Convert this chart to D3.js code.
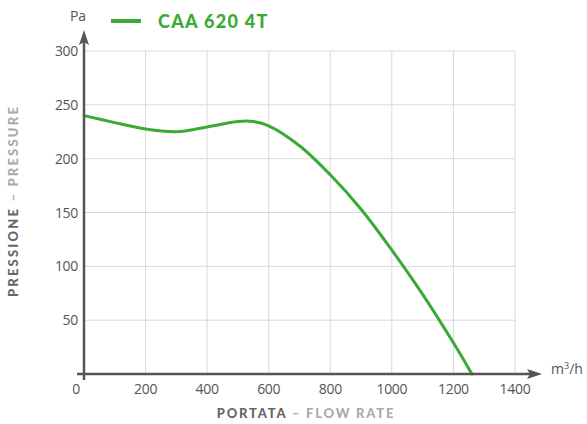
<!DOCTYPE html>
<html><head><meta charset="utf-8">
<script src="https://cdn.jsdelivr.net/npm/d3@7"></script>
<style>body{margin:0;background:#fff}svg{display:block}</style>
</head><body>
<svg id="c" width="587" height="424"></svg>
<script>
const flow = [0,100,200,300,400,500,550,600,700,800,900,1000,1100,1200,1260];
const pressure = [240,233.5,227.5,225,229.5,234.5,234.5,230.5,212,185,153,115,74,29,0];
const xTicks = [0,200,400,600,800,1000,1200,1400];
const yTicks = [50,100,150,200,250,300];
const seriesName = "CAA 620 4T";

const svg = d3.select("#c");
const x = d3.scaleLinear().domain([0,1400]).range([84,515]);
const y = d3.scaleLinear().domain([0,300]).range([374,51]);
const green = "#3aaa35", axisC = "#555", gridC = "#d9d9d9";
const font = "'Open Sans', Lato, sans-serif", tfont = "Lato, 'Open Sans', sans-serif";

// grid
svg.append("g").selectAll("line").data(xTicks.slice(1)).join("line")
  .attr("x1",d=>x(d)).attr("x2",d=>x(d)).attr("y1",y(300)).attr("y2",y(0))
  .attr("stroke",gridC).attr("stroke-width",1);
svg.append("g").selectAll("line").data(yTicks).join("line")
  .attr("x1",x(0)).attr("x2",x(1400)).attr("y1",d=>y(d)).attr("y2",d=>y(d))
  .attr("stroke",gridC).attr("stroke-width",1);

// curve
const line = d3.line().x((d,i)=>x(flow[i])).y(d=>y(d)).curve(d3.curveCatmullRom.alpha(0.5));
svg.append("path").attr("d",line(pressure)).attr("fill","none")
  .attr("stroke",green).attr("stroke-width",3).attr("stroke-linecap","round");

// axes
svg.append("line").attr("x1",x(0)-7).attr("x2",534).attr("y1",y(0)).attr("y2",y(0))
  .attr("stroke",axisC).attr("stroke-width",2.5);
svg.append("path").attr("d",`M542,${y(0)} L527,${y(0)-5} L530,${y(0)} L527,${y(0)+5} Z`).attr("fill",axisC);
svg.append("line").attr("x1",x(0)).attr("x2",x(0)).attr("y1",y(0)+6).attr("y2",40)
  .attr("stroke",axisC).attr("stroke-width",2.5);
svg.append("path").attr("d",`M${x(0)},30 L${x(0)-5},45 L${x(0)},42 L${x(0)+5},45 Z`).attr("fill",axisC);

// tick labels
svg.append("g").selectAll("text").data(xTicks).join("text")
  .attr("x",d=>d===0?x(d)-8:x(d)).attr("y",y(0)+20).attr("text-anchor","middle")
  .attr("font-family",font).attr("font-size",14).attr("letter-spacing",-0.3).attr("fill",axisC).text(d=>d);
svg.append("g").selectAll("text").data(yTicks).join("text")
  .attr("x",x(0)-6).attr("y",d=>y(d)+5).attr("text-anchor","end")
  .attr("font-family",font).attr("font-size",14).attr("letter-spacing",-0.3).attr("fill",axisC).text(d=>d);

// units
svg.append("text").attr("x",78).attr("y",21).attr("text-anchor","middle")
  .attr("font-family",font).attr("font-size",14).attr("fill",axisC).text("Pa");
const mt = svg.append("text").attr("x",551).attr("y",374).attr("font-family",font).attr("font-size",14).attr("fill",axisC);
mt.append("tspan").text("m");
mt.append("tspan").attr("dy",-5).attr("font-size",9).text("3");
mt.append("tspan").attr("dy",5).text("/h");

// legend
svg.append("line").attr("x1",111).attr("x2",141).attr("y1",21).attr("y2",21)
  .attr("stroke",green).attr("stroke-width",4);
svg.append("text").attr("x",158).attr("y",28).attr("font-family",tfont).attr("font-weight",900)
  .attr("font-size",18).attr("letter-spacing",1.3).attr("fill",green).text(seriesName);

// axis titles
const xt = svg.append("text").attr("x",306).attr("y",418).attr("text-anchor","middle")
  .attr("font-family",tfont).attr("font-weight",900).attr("font-size",13).attr("letter-spacing",1.8);
xt.append("tspan").attr("fill","#666").text("PORTATA ");
xt.append("tspan").attr("fill","#aaa").text("– FLOW RATE");
const yt = svg.append("text").attr("transform","translate(18,201) rotate(-90)").attr("text-anchor","middle")
  .attr("font-family",tfont).attr("font-weight",900).attr("font-size",13).attr("letter-spacing",2.2);
yt.append("tspan").attr("fill","#666").text("PRESSIONE ");
yt.append("tspan").attr("fill","#aaa").text("– PRESSURE");
</script>
</body></html>
